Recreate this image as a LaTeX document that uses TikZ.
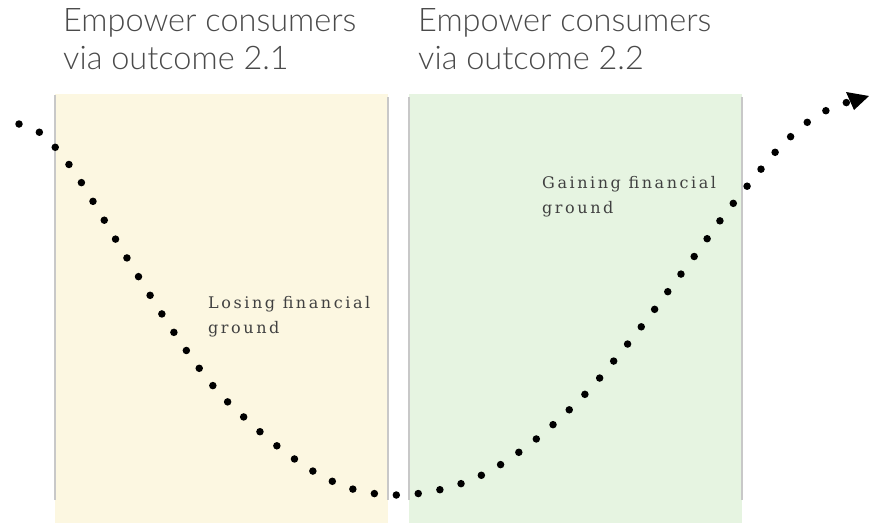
\documentclass[tikz,border=0pt]{standalone}
\usepackage{fontspec}
\usetikzlibrary{arrows.meta}
\newfontfamily\titlefont{Lato Light}
\newfontfamily\labelfont[LetterSpace=16]{DejaVu Serif}
\definecolor{ybg}{HTML}{FCF7E1}
\definecolor{gbg}{HTML}{E6F4E1}
\definecolor{edge}{HTML}{C8C8C8}
\definecolor{titlegray}{HTML}{4A4A4A}
\definecolor{labelgray}{HTML}{404040}
\begin{document}
\begin{tikzpicture}[x=1pt,y=-1pt,
  title/.style={anchor=base west,inner sep=0pt,font=\titlefont\fontsize{32.5}{38}\selectfont,text=titlegray,align=left},
  label/.style={anchor=base west,inner sep=0pt,font=\labelfont\fontsize{16}{25}\selectfont,text=labelgray,align=left},
  edgeline/.style={draw=edge,line width=1.6pt},
  dotline/.style={line width=7.5pt,line cap=round,dash pattern=on 0pt off 22pt}]
\useasboundingbox (0,0) rectangle (869,523);
% panels
\fill[ybg] (55,94) rectangle (388,523);
\fill[gbg] (409,94) rectangle (742,523);
\draw[edgeline] (55,95) -- (55,500);
\draw[edgeline] (388,97) -- (388,500);
\draw[edgeline] (409,97) -- (409,500);
\draw[edgeline] (742,97) -- (742,500);
% titles
\node[title] (t1) at (63,69) {Empower consumers\\via outcome 2.1};
\node[title] (t2) at (418,69) {Empower consumers\\via outcome 2.2};
% labels
\node[label] (l1) at (208,333) {Losing financial\\ground};
\node[label] (l2) at (542,213) {Gaining financial\\ground};
% curve
\draw[dotline] plot[smooth,tension=0.6] coordinates {
 (19,124) (39,132) (55,147) (81,182) (127,258) (175,334) (214,387)
 (247,420) (281,449) (318,474) (356,490) (398,495) (443,489)
 (484,474) (522,450) (556,422) (589,390) (617,357) (645,322)
 (672,286) (699,250) (725,214) (753,179) (782,145) (816,116) (848,102)};
\fill (846,92) -- (869,96) -- (854,110) -- cycle;
\end{tikzpicture}
\end{document}
